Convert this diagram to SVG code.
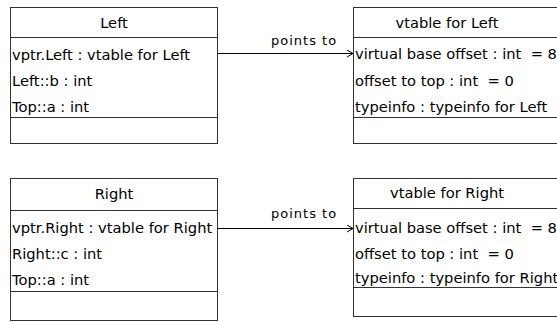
<svg xmlns="http://www.w3.org/2000/svg" width="557" height="322" viewBox="0 0 557 322">
<style>
.box{fill:#fff;stroke:#333;stroke-width:1}
.div{stroke:#333;stroke-width:1}
text{font-family:"DejaVu Sans",sans-serif;font-size:14.7px;fill:#000;white-space:pre}
.h{text-anchor:middle}
.lbl{font-size:13px;letter-spacing:1px}
.conn{stroke:#000;stroke-width:1;fill:none}
</style>
<defs>
<marker id="arr" markerWidth="8" markerHeight="10" refX="6" refY="4" orient="auto" markerUnits="userSpaceOnUse">
<path d="M0,0.5 L6,4 L0,7.5" fill="none" stroke="#000" stroke-width="1"/>
</marker>
</defs>
<rect width="557" height="322" fill="#fff"/>
<g id="left">
<rect class="box" x="10.5" y="7.5" width="207" height="136"/>
<line class="div" x1="10.5" y1="37.5" x2="217.5" y2="37.5"/>
<line class="div" x1="10.5" y1="117.5" x2="217.5" y2="117.5"/>
<text class="h" x="114" y="28">Left</text>
<text x="12" y="60">vptr.Left : vtable for Left</text>
<text x="12" y="86">Left::b : int</text>
<text x="12" y="112">Top::a : int</text>
</g>
<g id="vtable-left">
<rect class="box" x="353.5" y="7.5" width="220" height="136"/>
<line class="div" x1="353.5" y1="37.5" x2="573" y2="37.5"/>
<line class="div" x1="353.5" y1="117.5" x2="573" y2="117.5"/>
<text class="h" x="447" y="28">vtable for Left</text>
<text x="355" y="59" xml:space="preserve">virtual base offset : int  = 8</text>
<text x="355" y="86" xml:space="preserve">offset to top : int  = 0</text>
<text x="355" y="112">typeinfo : typeinfo for Left</text>
</g>
<g id="right">
<rect class="box" x="10.5" y="178.5" width="207" height="142"/>
<line class="div" x1="10.5" y1="210.5" x2="217.5" y2="210.5"/>
<line class="div" x1="10.5" y1="291.5" x2="217.5" y2="291.5"/>
<text class="h" x="114" y="199">Right</text>
<text x="12" y="233">vptr.Right : vtable for Right</text>
<text x="12" y="259">Right::c : int</text>
<text x="12" y="285">Top::a : int</text>
</g>
<g id="vtable-right">
<rect class="box" x="353.5" y="178.5" width="220" height="138"/>
<line class="div" x1="353.5" y1="208.5" x2="573" y2="208.5"/>
<line class="div" x1="353.5" y1="287.5" x2="573" y2="287.5"/>
<text class="h" x="447" y="198">vtable for Right</text>
<text x="355" y="233" xml:space="preserve">virtual base offset : int  = 8</text>
<text x="355" y="259" xml:space="preserve">offset to top : int  = 0</text>
<text x="355" y="283">typeinfo : typeinfo for Right</text>
</g>
<g id="connectors">
<line class="conn" x1="217.5" y1="53.5" x2="353" y2="53.5" marker-end="url(#arr)"/>
<text class="lbl" x="271" y="45">points to</text>
<line class="conn" x1="217.5" y1="228.5" x2="353" y2="228.5" marker-end="url(#arr)"/>
<text class="lbl" x="271" y="218">points to</text>
</g>
</svg>
